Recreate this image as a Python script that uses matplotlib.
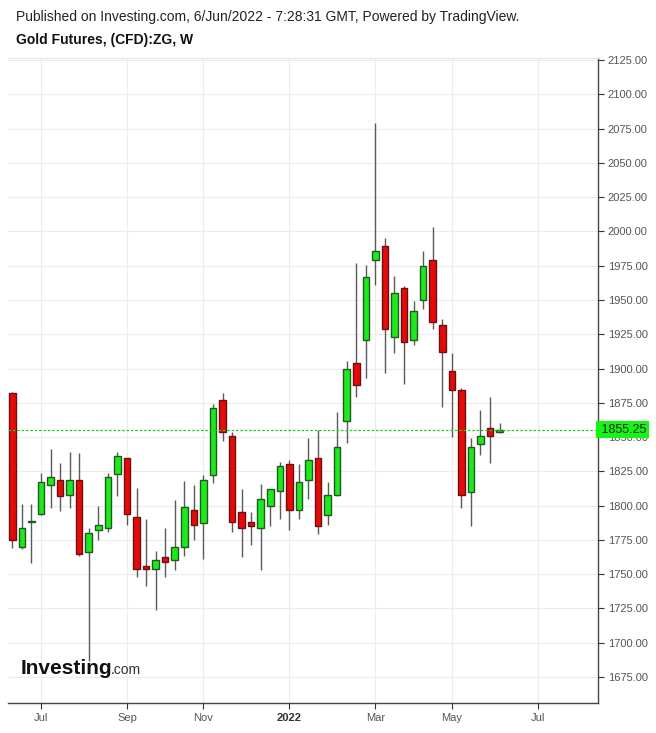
import numpy as np
import matplotlib.pyplot as plt

# =========================
# -------- DATA -----------
# =========================

# weekly candles, Jun 2021 -> Jun 2022
opens = [1882, 1770, 1788, 1794, 1815, 1819, 1808, 1819, 1766, 1782,
         1784, 1823, 1834.5, 1792, 1756, 1754, 1762.5, 1760, 1770, 1797,
         1787, 1822, 1877, 1851, 1795, 1788, 1784, 1800, 1810.5, 1830,
         1797, 1819, 1835, 1793, 1808, 1862, 1904, 1921, 1979, 1989,
         1923, 1959, 1921, 1950, 1979, 1932, 1898, 1884, 1810, 1845,
         1856.5, 1853.5]
highs = [1883, 1801, 1801, 1824, 1841, 1831, 1839, 1838, 1784, 1800,
         1824, 1839, 1835, 1813, 1790, 1767, 1784, 1804, 1818, 1815,
         1822, 1874, 1882, 1854, 1812, 1795, 1816, 1812, 1832, 1833,
         1830, 1849, 1855, 1817, 1868, 1905.5, 1977, 1975.5, 2079, 1995,
         1967.5, 1960, 1949, 1986, 2003, 1936, 1911, 1885.5, 1849, 1870,
         1879, 1860]
lows = [1769, 1768, 1758, 1793, 1798, 1796, 1798, 1763, 1687, 1775,
        1781, 1807, 1786, 1748, 1741, 1724, 1748, 1753, 1763.5, 1775,
        1761, 1816.5, 1847, 1781, 1762.5, 1771, 1753, 1785, 1790, 1782,
        1790, 1805, 1779.5, 1786, 1807, 1846, 1879, 1893, 1961, 1896.5,
        1911, 1889, 1917, 1943.6, 1929, 1872, 1850, 1798, 1785, 1837,
        1831, 1853]
closes = [1775, 1784, 1789, 1817, 1821, 1807, 1819, 1765, 1780, 1786,
          1821, 1836, 1794, 1754, 1754, 1760, 1759, 1770, 1799, 1786,
          1819, 1871, 1854, 1788, 1784, 1785, 1805, 1812, 1829, 1797,
          1817, 1833, 1785, 1808, 1842.5, 1900, 1888, 1967, 1985.5, 1929,
          1955, 1919, 1942, 1975, 1934, 1912, 1884, 1808, 1842.5, 1851,
          1850.5, 1855.25]

last_price = 1855.25

# month ticks, in bar index units
month_pos = [3, 12, 20, 29, 38, 46, 55]
month_labels = ["Jul", "Sep", "Nov", "2022", "Mar", "May", "Jul"]

price_ticks = np.arange(1675, 2126, 25)

# =========================
# -------- STYLE ----------
# =========================

plt.rcParams["font.family"] = ["Liberation Sans", "DejaVu Sans"]

up_face, up_edge = "#1ee81e", "#1f5a1f"
dn_face, dn_edge = "#e60b0b", "#6a1010"
wick_col = "#5a5a5a"
grid_col = "#ececec"
tick_size = 8

fig = plt.figure(figsize=(6.56, 7.33), dpi=100)
ax = fig.add_axes([8 / 656, 30 / 733, 590 / 656, 645 / 733])

x = np.arange(len(opens))
o = np.array(opens)
h = np.array(highs)
l = np.array(lows)
c = np.array(closes)
up = c >= o

# wicks
ax.vlines(x, l, h, color=wick_col, linewidth=1.0, zorder=2)

# bodies
bottom = np.minimum(o, c)
height = np.maximum(np.abs(c - o), 0.9)
ax.bar(x[up], height[up], bottom=bottom[up], width=0.68,
       color=up_face, edgecolor=up_edge, linewidth=1.0, zorder=3)
ax.bar(x[~up], height[~up], bottom=bottom[~up], width=0.68,
       color=dn_face, edgecolor=dn_edge, linewidth=1.0, zorder=3)

# last price line
ax.axhline(last_price, color="#22cc22", linestyle=(0, (2, 1.5)),
           linewidth=0.9, zorder=4)

ax.set_xlim(-0.45, 61.3)
ax.set_ylim(1656, 2126.5)

ax.set_xticks(month_pos)
ax.set_xticklabels(month_labels)
ax.set_yticks(price_ticks)
ax.set_yticklabels([f"{v:.2f}" for v in price_ticks])
ax.yaxis.tick_right()

ax.grid(True, color=grid_col, linewidth=0.8, zorder=0)
ax.set_axisbelow(True)

ax.tick_params(axis="y", which="both", length=4, width=0.8, color="#333333",
               labelsize=tick_size, labelcolor="#555555", pad=3)
ax.tick_params(axis="x", which="both", length=4, width=0.8, color="#333333",
               labelsize=tick_size, labelcolor="#555555", pad=3)
for lab in ax.get_xticklabels():
    if lab.get_text() == "2022":
        lab.set_fontweight("bold")
        lab.set_color("#333333")

ax.spines["left"].set_visible(False)
ax.spines["top"].set_color("#e6e6e6")
ax.spines["right"].set_color("#444444")
ax.spines["bottom"].set_color("#444444")
ax.spines["right"].set_linewidth(1.0)
ax.spines["bottom"].set_linewidth(1.0)

# last price tag on the right axis
ax.text(1.0, last_price, f" {last_price:.2f}", transform=ax.get_yaxis_transform(),
        ha="left", va="center", fontsize=9, color="#222222", zorder=6,
        clip_on=False,
        bbox=dict(boxstyle="square,pad=0.2", facecolor="#14f514",
                  edgecolor="none"))

# headers
fig.text(16 / 656, 1 - 17 / 733, "Published on Investing.com, 6/Jun/2022 - 7:28:31 GMT, Powered by TradingView.",
         ha="left", va="center", fontsize=10, color="#222222")
fig.text(16 / 656, 1 - 40 / 733, "Gold Futures, (CFD):ZG, W",
         ha="left", va="center", fontsize=10, fontweight="bold", color="#111111")

# watermark logo
fig.text(21 / 656, 1 - 668 / 733, "Investing", ha="left", va="center",
         fontsize=15, fontweight="bold", color="#111111", zorder=7)
fig.text(111 / 656, 1 - 670 / 733, ".com", ha="left", va="center",
         fontsize=10, color="#333333", zorder=7)

fig.savefig("out.png", dpi=100, facecolor="white")
